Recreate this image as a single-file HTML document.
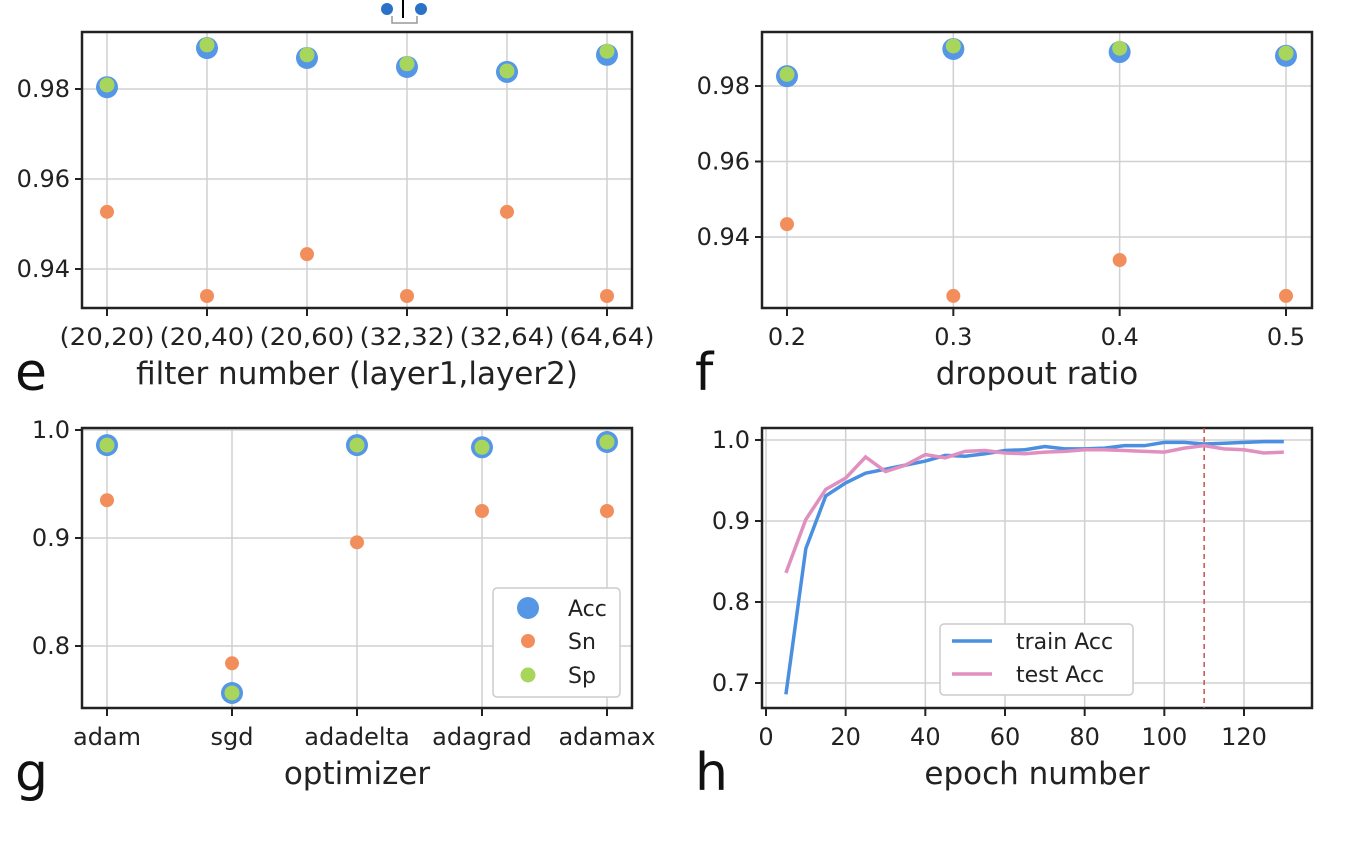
<!DOCTYPE html>
<html><head><meta charset="utf-8"><style>
body{margin:0;background:#fff;width:1372px;height:850px;overflow:hidden}
svg{font-family:"DejaVu Sans","Liberation Sans",sans-serif}
</style></head><body>
<svg id="c" width="1372" height="850">
<g>
<circle cx="387" cy="9" r="6" fill="#2a72c8"/><circle cx="421" cy="9" r="6" fill="#2a72c8"/>
<line x1="403" y1="0" x2="403" y2="18" stroke="#000" stroke-width="2"/>
<path d="M392 16 V23 H417 V16" fill="none" stroke="#999" stroke-width="1.5"/>
</g>
</svg>
<script>
const eCats=["(20,20)","(20,40)","(20,60)","(32,32)","(32,64)","(64,64)"];
const eAcc=[0.9804,0.9891,0.9869,0.9849,0.9838,0.9876];
const eSp=[0.9809,0.9898,0.9876,0.9856,0.9840,0.9884];
const eSn=[0.9527,0.934,0.9433,0.934,0.9527,0.934];
const eTicks=[0.94,0.96,0.98];
const fCats=[0.2,0.3,0.4,0.5];
const fAcc=[0.9826,0.9898,0.989,0.988];
const fSp=[0.9831,0.9906,0.9900,0.9887];
const fSn=[0.9434,0.9244,0.9339,0.9244];
const fTicks=[0.94,0.96,0.98];
const gCats=["adam","sgd","adadelta","adagrad","adamax"];
const gAcc=[0.986,0.7565,0.986,0.984,0.9889];
const gSp=[0.986,0.7565,0.986,0.984,0.9889];
const gSn=[0.935,0.784,0.896,0.925,0.925];
const gTicks=[0.8,0.9,1.0];
const hEpochs=[5,10,15,20,25,30,35,40,45,50,55,60,65,70,75,80,85,90,95,100,105,110,115,120,125,130];
const hTrain=[0.686,0.866,0.931,0.947,0.959,0.964,0.969,0.974,0.981,0.980,0.983,0.987,0.988,0.992,0.989,0.989,0.990,0.993,0.993,0.997,0.997,0.995,0.996,0.997,0.998,0.998];
const hTest=[0.836,0.902,0.939,0.953,0.979,0.961,0.969,0.982,0.978,0.986,0.987,0.984,0.983,0.985,0.986,0.988,0.988,0.987,0.986,0.985,0.990,0.993,0.989,0.988,0.984,0.985];
const hBest=[110];
const hYTicks=[0.7,0.8,0.9,1.0];
const hXTicks=[0,20,40,60,80,100,120];

const NS="http://www.w3.org/2000/svg";
const svg=document.getElementById('c');
function mk(tag,at,parent,txt){const e=document.createElementNS(NS,tag);for(const k in at)e.setAttribute(k,at[k]);if(txt!==undefined)e.textContent=txt;(parent||svg).appendChild(e);return e;}
function lin(d0,d1,r0,r1){return v=>r0+(v-d0)*(r1-r0)/(d1-d0);}
const BLUE="#5596e6",GREEN="#a8d65c",ORANGE="#f28e5c";

function panel(name,box,y,yTicks,yFmt,xPos,xLabels,xTitle,letter,xLen){
  const g=mk('g',{});
  
  
  yTicks.forEach(t=>{const yy=y(t);
    mk('line',{x1:box.x0,x2:box.x1,y1:yy,y2:yy,stroke:'#d0d0d0','stroke-width':1.5},g);
    mk('line',{x1:box.x0-7,x2:box.x0,y1:yy,y2:yy,stroke:'#222','stroke-width':2},g);
    mk('text',{x:box.x0-12,y:yy+8,'text-anchor':'end','font-size':24,fill:'#222'},g,yFmt(t));});
  xPos.forEach((xx,i)=>{
    mk('line',{x1:xx,x2:xx,y1:box.y0,y2:box.y1,stroke:'#d0d0d0','stroke-width':1.5},g);
    mk('line',{x1:xx,x2:xx,y1:box.y1,y2:box.y1+8,stroke:'#222','stroke-width':2},g);
    const at={x:xx,y:box.y1+37,'text-anchor':'middle','font-size':24,fill:'#222'};
    if(xLen){at.textLength=xLen;at.lengthAdjust='spacingAndGlyphs';}
    mk('text',at,g,xLabels[i]);});
  mk('rect',{x:box.x0,y:box.y0,width:box.x1-box.x0,height:box.y1-box.y0,fill:'none',stroke:'#222','stroke-width':2.5},g);
  mk('text',{x:(box.x0+box.x1)/2,y:box.y1+76,'text-anchor':'middle','font-size':31,fill:'#222'},g,xTitle);
  mk('text',{x:box.x0-67,y:box.y1+82,'font-size':52,fill:'#111'},g,letter);
  return g;
}
function dots(g,xs,acc,sp,sn,y,name){
  xs.forEach((xx,i)=>{
    const a=mk('circle',{cx:xx,cy:y(acc[i]),r:11,fill:BLUE},g);
    
    
    const s=mk('circle',{cx:xx,cy:y(sn[i]),r:7,fill:ORANGE},g);
    
    
    const p=mk('circle',{cx:xx,cy:y(sp[i]),r:7.5,fill:GREEN},g);
    
    
  });
}
// e
{const box={x0:82,x1:632,y0:32,y1:308};const y=lin(0.94,0.98,269,89);
 const x=i=>107+i*100;const xs=eCats.map((c,i)=>x(i));
 const g=panel('panel-e-filter-number',box,y,eTicks,t=>t.toFixed(2),xs,eCats,'filter number (layer1,layer2)','e',95);
 dots(g,xs,eAcc,eSp,eSn,y,'e');}
// f
{const box={x0:762,x1:1312,y0:32,y1:308};const y=lin(0.94,0.98,237,86);
 const x=lin(0.2,0.5,787,1286);const xs=fCats.map(x);
 const g=panel('panel-f-dropout',box,y,fTicks,t=>t.toFixed(2),xs,fCats.map(v=>v.toFixed(1)),'dropout ratio','f');
 dots(g,xs,fAcc,fSp,fSn,y,'f');}
// g
{const box={x0:82,x1:632,y0:428,y1:708};const y=lin(0.8,1.0,646,430);
 const xs=gCats.map((c,i)=>107+i*125);
 const g=panel('panel-g-optimizer',box,y,gTicks,t=>t.toFixed(1),xs,gCats,'optimizer','g');
 dots(g,xs,gAcc,gSp,gSn,y,'g');
 const L=mk('g',{},g);
 
 
 mk('rect',{x:493,y:588,width:127,height:109,rx:4,fill:'#fff',stroke:'#ccc','stroke-width':1.5},L);
 [['Acc',BLUE,11,608],['Sn',ORANGE,7,641],['Sp',GREEN,7.5,675]].forEach(r=>{
  mk('circle',{cx:528,cy:r[3],r:r[2],fill:r[1]},L);
  mk('text',{x:568,y:r[3]+8,'font-size':22,fill:'#222'},L,r[0]);});}
// h
{const box={x0:762,x1:1312,y0:428,y1:708};const y=lin(0.7,1.0,683,440);
 const x=lin(0,120,766,1244);
 const g=panel('panel-h-epochs',box,y,hYTicks,t=>t.toFixed(1),hXTicks.map(x),hXTicks.map(String),'epoch number','h');
 hBest.forEach(b=>{const l=mk('line',{x1:x(b),x2:x(b),y1:box.y0,y2:box.y1,stroke:'#c8504f','stroke-width':1.5,'stroke-dasharray':'5,4'},g);
  
  });
 const pts=a=>hEpochs.map((e,i)=>x(e)+','+y(a[i])).join(' ');
 const tr=mk('polyline',{points:pts(hTrain),fill:'none',stroke:'#4a8fe0','stroke-width':3.5},g);
 
 
 const te=mk('polyline',{points:pts(hTest),fill:'none',stroke:'#e08fbf','stroke-width':3.5},g);
 
 
 const L=mk('g',{},g);
 
 
 mk('rect',{x:940,y:624,width:193,height:71,rx:4,fill:'#fff',stroke:'#ccc','stroke-width':1.5},L);
 mk('line',{x1:952,x2:992,y1:641,y2:641,stroke:'#4a8fe0','stroke-width':3.5},L);
 mk('line',{x1:952,x2:992,y1:674,y2:674,stroke:'#e08fbf','stroke-width':3.5},L);
 mk('text',{x:1016,y:649,'font-size':22,fill:'#222'},L,'train Acc');
 mk('text',{x:1016,y:682,'font-size':22,fill:'#222'},L,'test Acc');}
</script>
</body></html>
